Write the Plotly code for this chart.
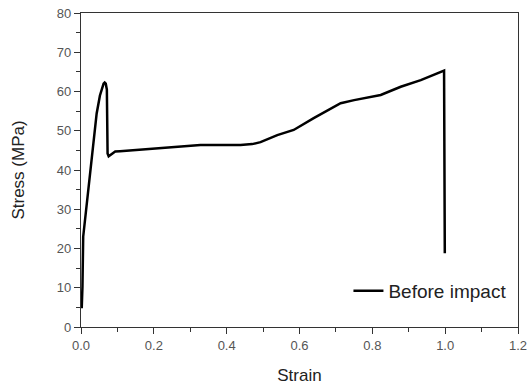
import plotly.graph_objects as go

strain = [0.002, 0.004, 0.006, 0.016, 0.025, 0.034, 0.043, 0.052, 0.058, 0.062, 0.065, 0.068, 0.071,
          0.073, 0.076, 0.080, 0.094, 0.107, 0.149, 0.199, 0.263, 0.328, 0.438, 0.470, 0.493,
          0.539, 0.584, 0.639, 0.713, 0.750, 0.823, 0.878, 0.933, 0.997, 0.999]
stress = [4.8, 10.3, 23.0, 31.6, 40.0, 46.8, 54.4, 59.0, 61.0, 62.0, 62.3, 62.0, 60.5,
          44.2, 43.5, 43.8, 44.7, 44.8, 45.1, 45.5, 45.9, 46.4, 46.4, 46.6, 47.1,
          48.9, 50.2, 53.2, 57.0, 57.8, 59.1, 61.2, 62.9, 65.3, 18.8]

FONT = "Liberation Sans, Arial"

fig = go.Figure()
fig.add_trace(go.Scatter(x=strain, y=stress, mode="lines", name="Before impact",
                         line=dict(color="black", width=2.5)))

axis_common = dict(showline=True, linecolor="#333", linewidth=1.3, mirror=True,
                   ticks="outside", ticklen=6, tickwidth=1.2, tickcolor="#333",
                   showgrid=False, zeroline=False, automargin=False,
                   tickfont=dict(family=FONT, size=13, color="#555"))

fig.update_xaxes(range=[0, 1.2], dtick=0.2, tickformat=".1f",
                 minor=dict(dtick=0.1, ticks="outside", ticklen=4, tickcolor="#333"),
                 title=dict(text="Strain", font=dict(family=FONT, size=17, color="#222"),
                            standoff=21),
                 **axis_common)
fig.update_yaxes(range=[0, 80], dtick=10,
                 minor=dict(dtick=5, ticks="outside", ticklen=4, tickcolor="#333"),
                 title=dict(text="Stress (MPa)", font=dict(family=FONT, size=17, color="#222"),
                            standoff=27),
                 **axis_common)

fig.update_layout(width=528, height=385, margin=dict(l=81, r=10, t=13, b=58),
                  plot_bgcolor="white", paper_bgcolor="white",
                  showlegend=True,
                  legend=dict(x=0.985, y=0.115, xanchor="right", yanchor="middle",
                              bgcolor="rgba(0,0,0,0)",
                              font=dict(family=FONT, size=19, color="#222")))

fig.write_html("out.html")
